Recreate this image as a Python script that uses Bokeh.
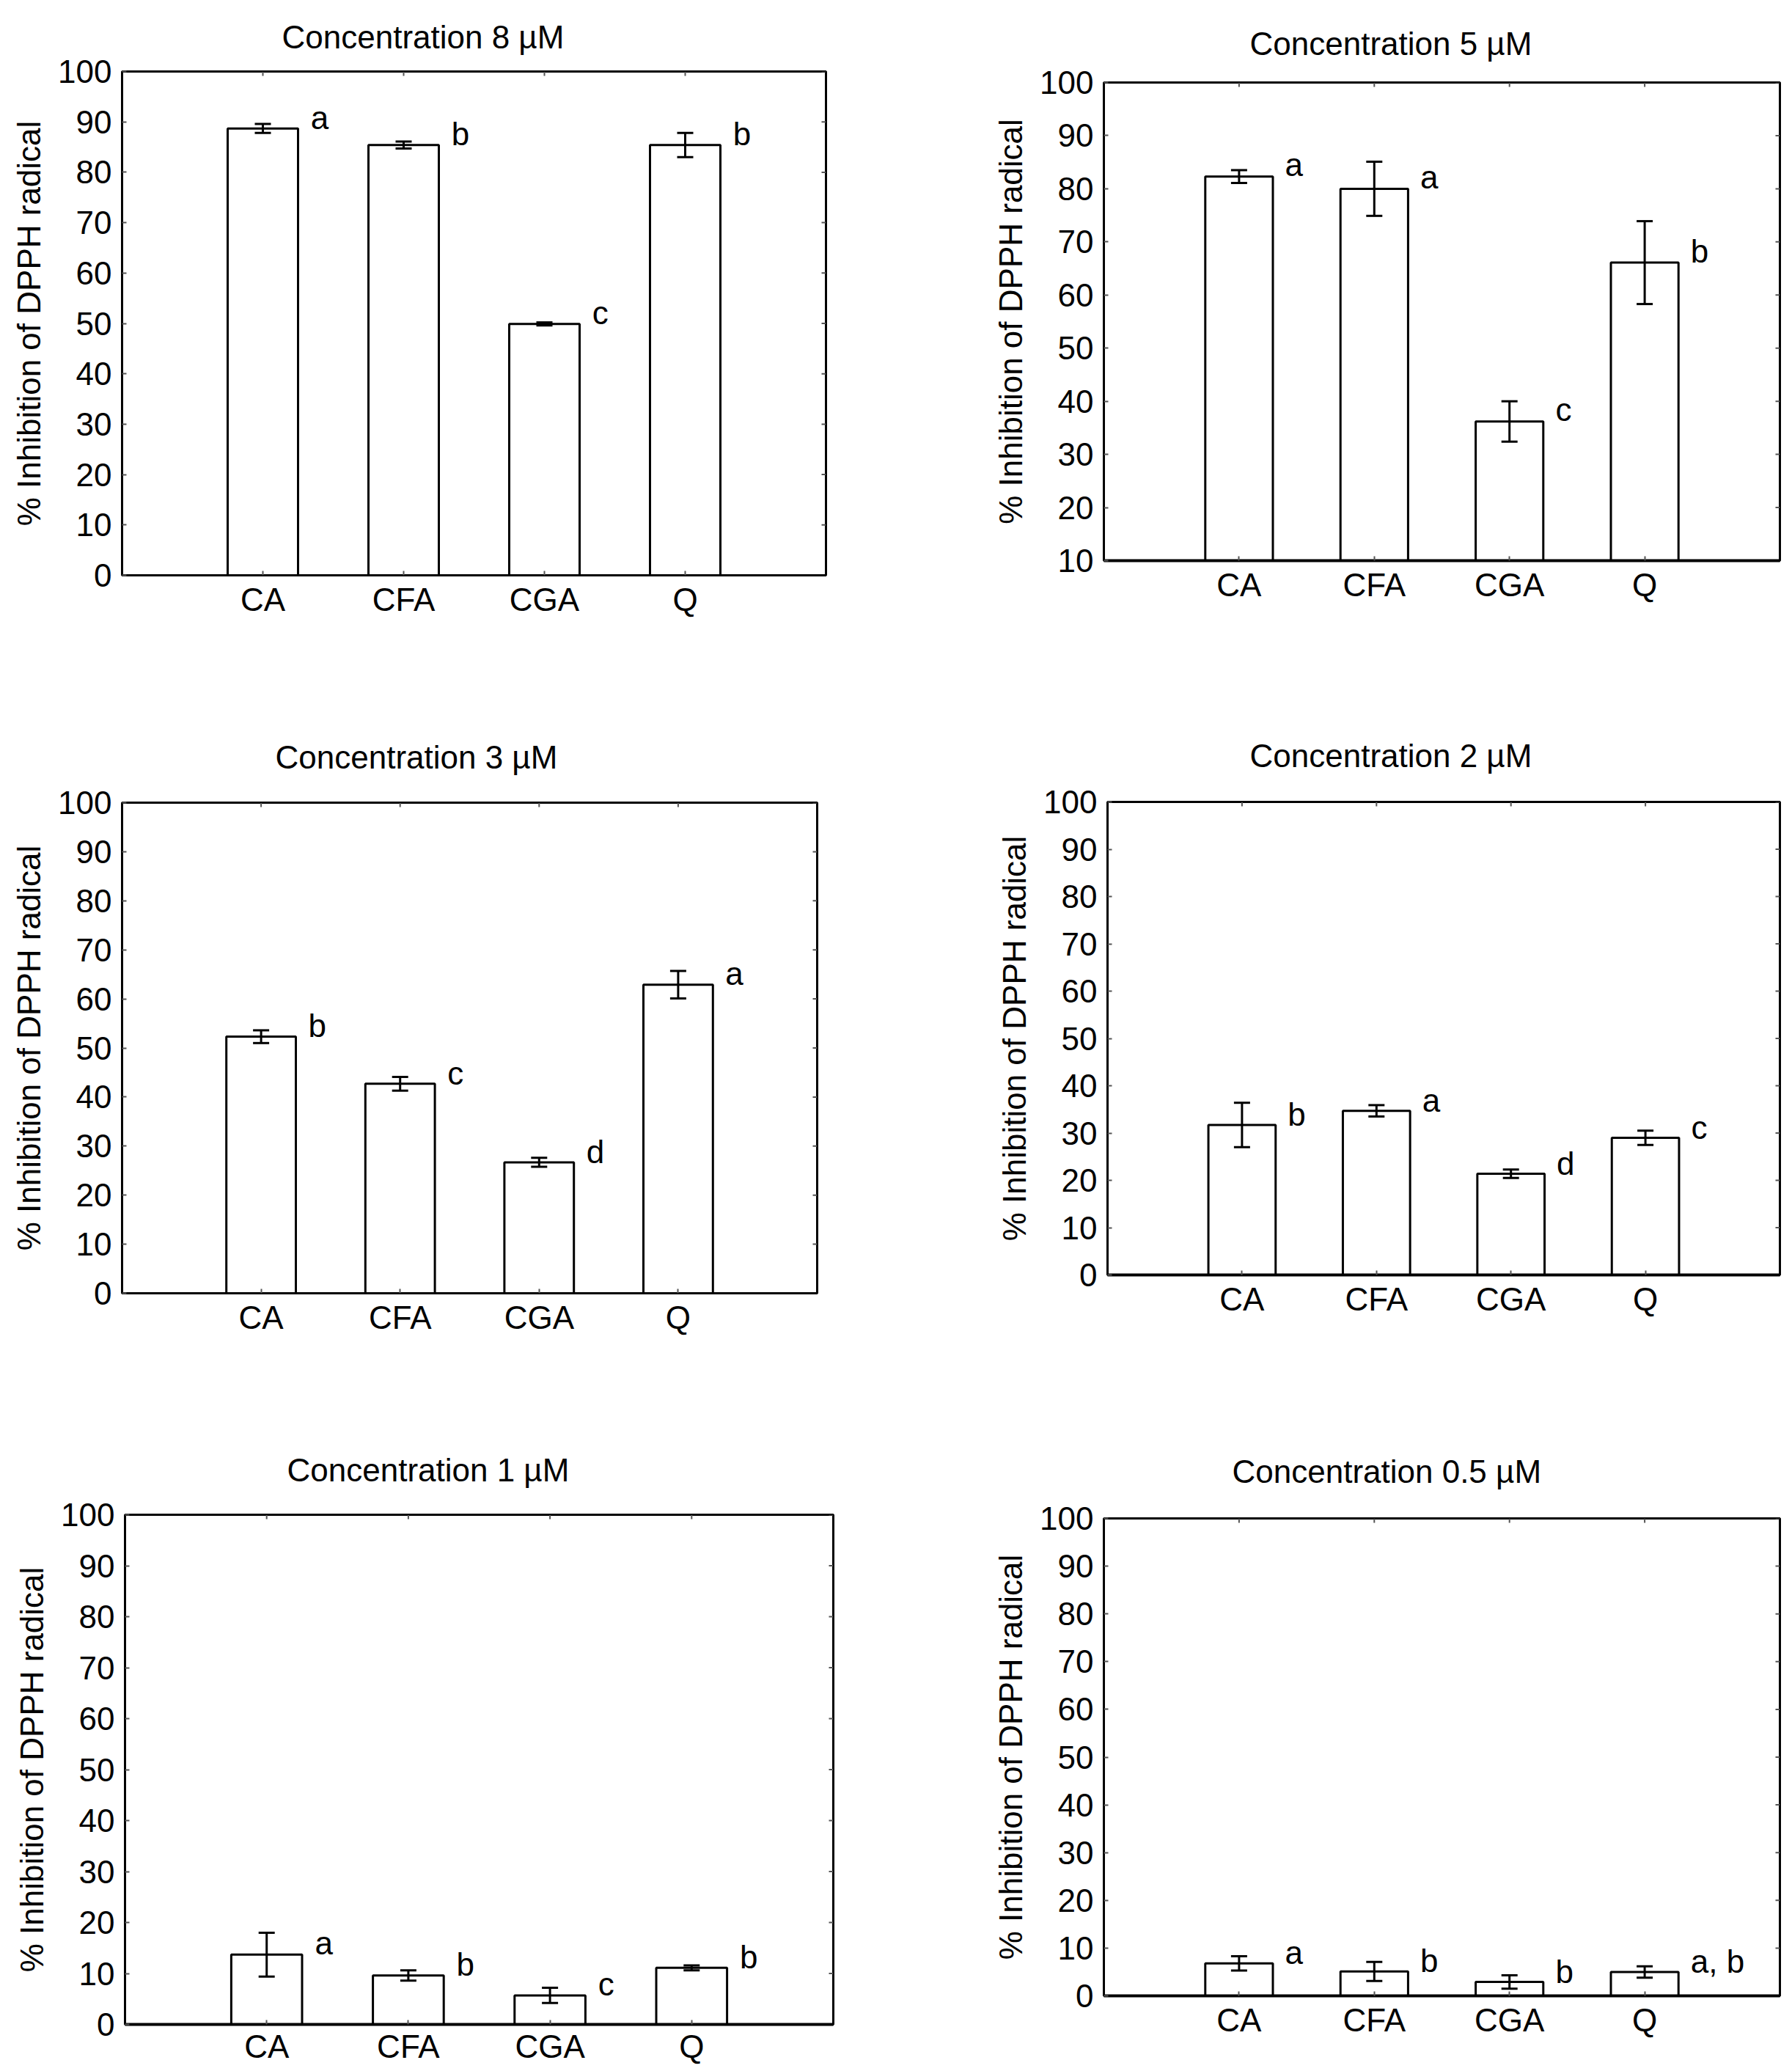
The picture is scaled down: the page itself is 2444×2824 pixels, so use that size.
import math
from bokeh.plotting import figure
from bokeh.models import ColumnDataSource, Range1d, FixedTicker, Whisker, TeeHead
from bokeh.layouts import column, row
from bokeh.core.properties import value
from bokeh.embed import file_html
from bokeh.resources import INLINE

# ---------------- data ----------------
categories = ["CA", "CFA", "CGA", "Q"]

titles = ["Concentration 8 \u00b5M", "Concentration 5 \u00b5M",
          "Concentration 3 \u00b5M", "Concentration 2 \u00b5M",
          "Concentration 1 \u00b5M", "Concentration 0.5 \u00b5M"]

mean_8uM = [88.7, 85.4, 49.9, 85.4]
err_8uM = [0.9, 0.7, 0.3, 2.4]
letters_8uM = ["a", "b", "c", "b"]

mean_5uM = [82.3, 80.0, 36.2, 66.1]
err_5uM = [1.2, 5.1, 3.8, 7.8]
letters_5uM = ["a", "a", "c", "b"]

mean_3uM = [52.3, 42.7, 26.7, 62.9]
err_3uM = [1.3, 1.4, 0.9, 2.8]
letters_3uM = ["b", "c", "d", "a"]

mean_2uM = [31.7, 34.7, 21.4, 29.0]
err_2uM = [4.7, 1.2, 0.9, 1.5]
letters_2uM = ["b", "a", "d", "c"]

mean_1uM = [13.7, 9.6, 5.7, 11.1]
err_1uM = [4.3, 1.0, 1.5, 0.5]
letters_1uM = ["a", "b", "c", "b"]

mean_05uM = [6.8, 5.1, 2.9, 5.0]
err_05uM = [1.5, 2.0, 1.4, 1.2]
letters_05uM = ["a", "b", "b", "a, b"]

y_min = [0, 10, 0, 0, 0, 0]
y_label = "% Inhibition of DPPH radical"

means = [mean_8uM, mean_5uM, mean_3uM, mean_2uM, mean_1uM, mean_05uM]
errs = [err_8uM, err_5uM, err_3uM, err_2uM, err_1uM, err_05uM]
letters = [letters_8uM, letters_5uM, letters_3uM, letters_2uM, letters_1uM, letters_05uM]

# ---------------- layout (pixels) ----------------
# (width, height, border_left, border_right, border_top, border_bottom,
#  x_standoff, bottom_lw, title_offset, title_standoff)
layout_specs = [
    (1338, 958, 166, 212, 97, 174, 8, 3, 218, 46),
    (1102, 958, 167, 13, 112, 194, 8, 4, 199, 58),
    (1338, 950, 166, 224, 136, 145, 8, 3, 209, 76),
    (1102, 950, 172, 13, 135, 170, 8, 4, 194, 78),
    (1338, 912, 170, 202, 157, 60, 5, 4, 221, 74),
    (1102, 912, 167, 13, 162, 99, 8, 4, 175, 80),
]

FONT = "Liberation Sans"
FS = "44px"


def make_panel(i):
    W, H, bl, br, bt, bb, xso, blw, toff, tso = layout_specs[i]
    ymin = y_min[i]
    xs = list(range(1, len(categories) + 1))
    xmax = len(categories) + 1
    yticks = list(range(ymin, 101, 10))
    vals = means[i]
    er = errs[i]
    src = ColumnDataSource(dict(
        x=xs, top=vals, bottom=[ymin] * len(xs),
        upper=[v + e for v, e in zip(vals, er)],
        lower=[v - e for v, e in zip(vals, er)],
        lx=[x + 0.34 for x in xs],
        ly=[v + 2.2 for v in vals],
        lab=letters[i],
    ))
    p = figure(width=W, height=H, output_backend="svg", toolbar_location=None,
               x_range=Range1d(0, xmax), y_range=Range1d(ymin, 100),
               min_border_left=bl, min_border_right=br,
               min_border_top=bt, min_border_bottom=bb,
               background_fill_color="white", border_fill_color="white")
    p.grid.visible = False
    p.outline_line_color = "black"
    p.outline_line_width = 3
    p.outline_line_alpha = 1.0

    # title
    p.title.text = titles[i]
    p.title.text_font = FONT
    p.title.text_font_size = FS
    p.title.text_font_style = "normal"
    p.title.text_color = "black"
    p.title.align = "left"
    p.title.offset = toff
    p.title.standoff = tso

    # bars
    p.vbar(x="x", top="top", bottom="bottom", width=0.5, source=src,
           fill_color="white", line_color="black", line_width=3)

    # error bars
    wh = Whisker(base="x", upper="upper", lower="lower", source=src,
                 line_color="black", line_width=3, level="overlay",
                 upper_head=TeeHead(size=22, line_width=3, line_color="black"),
                 lower_head=TeeHead(size=22, line_width=3, line_color="black"))
    p.add_layout(wh)

    # significance letters
    p.text(x="lx", y="ly", text="lab", source=src, text_font=value(FONT),
           text_font_size=FS, text_align="left", text_baseline="middle",
           text_color="black")

    # inner tick marks on the top and right edges of the frame
    p.ray(x=xs, y=[100] * len(xs), length=6, length_units="screen",
          angle=-math.pi / 2, line_color="#555555", line_width=2)
    p.ray(x=[xmax] * len(yticks), y=yticks, length=6, length_units="screen",
          angle=math.pi, line_color="#555555", line_width=2)

    # x axis
    xa = p.xaxis[0]
    xa.ticker = FixedTicker(ticks=xs)
    xa.major_label_overrides = {x: c for x, c in zip(xs, categories)}
    xa.major_label_text_font = FONT
    xa.major_label_text_font_size = FS
    xa.major_label_text_color = "black"
    xa.major_label_standoff = xso
    xa.major_tick_in = 6
    xa.major_tick_out = 0
    xa.major_tick_line_width = 2
    xa.major_tick_line_color = "#555555"
    xa.minor_tick_line_color = None
    xa.axis_line_color = "black"
    xa.axis_line_width = blw

    # y axis
    ya = p.yaxis[0]
    ya.ticker = FixedTicker(ticks=yticks)
    ya.major_label_text_font = FONT
    ya.major_label_text_font_size = FS
    ya.major_label_text_color = "black"
    ya.major_label_standoff = 14
    ya.major_tick_in = 6
    ya.major_tick_out = 0
    ya.major_tick_line_width = 2
    ya.major_tick_line_color = "#555555"
    ya.minor_tick_line_color = None
    ya.axis_line_color = None
    ya.axis_label = y_label
    ya.axis_label_text_font = FONT
    ya.axis_label_text_font_size = FS
    ya.axis_label_text_font_style = "normal"
    ya.axis_label_text_color = "black"
    ya.axis_label_standoff = 12
    return p


panels = [make_panel(i) for i in range(6)]
layout = column(row(column(panels[0]), column(panels[1])),
                row(column(panels[2]), column(panels[3])),
                row(column(panels[4]), column(panels[5])))

open("out.html", "w").write(file_html(layout, INLINE))
